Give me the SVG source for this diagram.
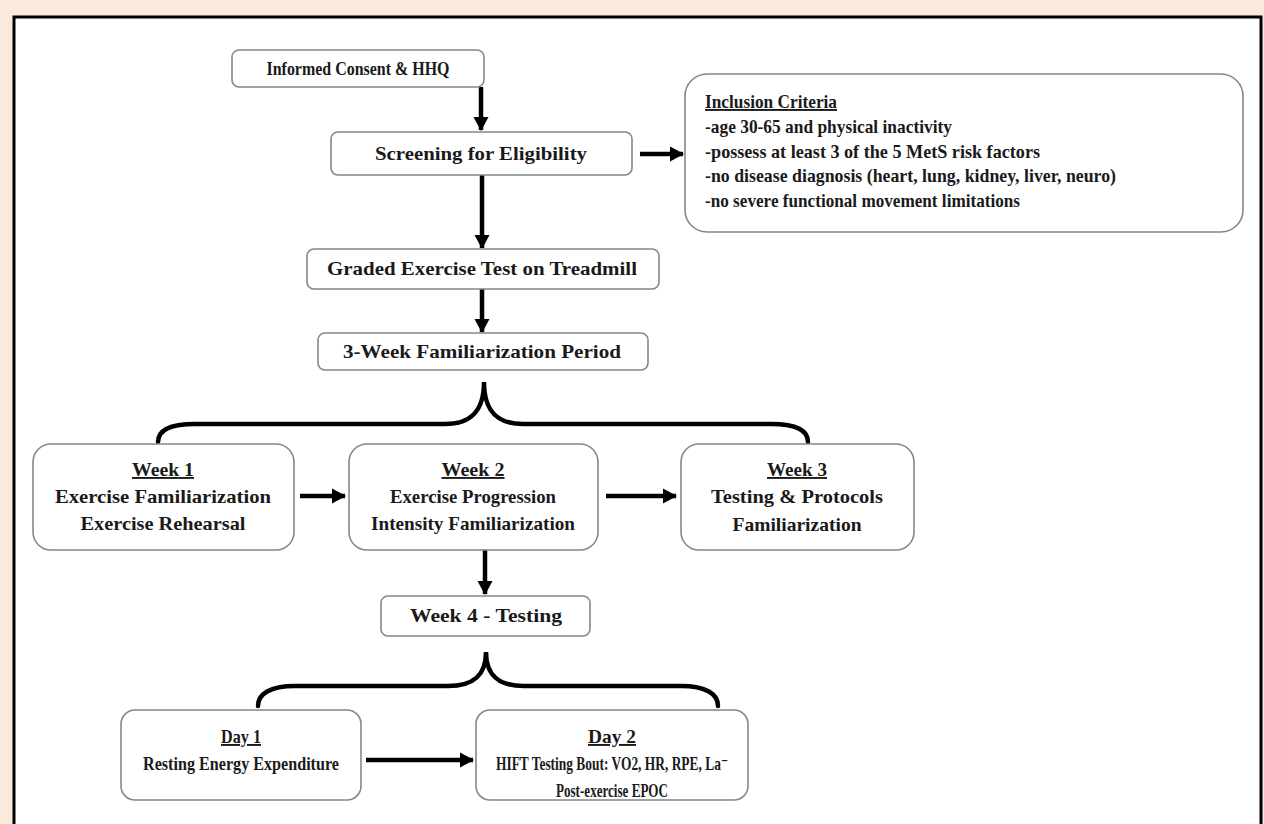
<svg xmlns="http://www.w3.org/2000/svg" width="1264" height="824" viewBox="0 0 1264 824">
<style>
.bx{fill:#fff;stroke:#7d8993;stroke-width:1.6}
.t{font-family:"Liberation Serif","Times New Roman","DejaVu Serif",serif;font-weight:bold;font-size:19px;fill:#1a1a1a;text-anchor:middle}
.l{text-anchor:start}
.u{text-decoration:underline}
.c{fill:none;stroke:#000;stroke-width:4.5}
.br{fill:none;stroke:#000;stroke-width:4.5;stroke-linecap:round}
</style>
<defs>
<marker id="ah" markerUnits="userSpaceOnUse" markerWidth="15" markerHeight="17" refX="13" refY="8.5" orient="auto">
<path d="M0,1 L14,8.5 L0,16 z" fill="#000"/>
</marker>
</defs>
<rect x="0" y="0" width="1264" height="824" fill="#fbe9dc"/>
<rect x="14" y="17" width="1247" height="830" fill="#fff" stroke="#000" stroke-width="3"/>

<g id="connectors">
<line class="c" x1="481" y1="87" x2="481" y2="130" marker-end="url(#ah)"/>
<line class="c" x1="640" y1="154" x2="683" y2="154" marker-end="url(#ah)"/>
<line class="c" x1="482" y1="175" x2="482" y2="248" marker-end="url(#ah)"/>
<line class="c" x1="482" y1="289" x2="482" y2="332" marker-end="url(#ah)"/>
<path class="br" d="M158,442 C158,430 170,424 195,424 L445,424 C470,424 484,412 484,382 C484,412 498,424 523,424 L771,424 C796,424 808,430 808,442"/>
<line class="c" x1="300" y1="496" x2="345" y2="496" marker-end="url(#ah)"/>
<line class="c" x1="606" y1="496" x2="676" y2="496" marker-end="url(#ah)"/>
<line class="c" x1="485" y1="550" x2="485" y2="594" marker-end="url(#ah)"/>
<path class="br" d="M258,706 C258,694 270,686 295,686 L448,686 C473,686 486,676 486,652 C486,676 499,686 524,686 L681,686 C706,686 718,694 718,706"/>
<line class="c" x1="366" y1="760" x2="473" y2="760" marker-end="url(#ah)"/>
</g>

<g id="n-consent">
<rect class="bx" x="232" y="50" width="252" height="37" rx="7"/>
<text class="t" x="358" y="75" textLength="183" lengthAdjust="spacingAndGlyphs">Informed  Consent &amp; HHQ</text>
</g>
<g id="n-screening">
<rect class="bx" x="331" y="132" width="301" height="43" rx="7"/>
<text class="t" x="481" y="160" textLength="212" lengthAdjust="spacingAndGlyphs">Screening for Eligibility</text>
</g>
<g id="n-inclusion">
<rect class="bx" x="685" y="74" width="558" height="158" rx="22"/>
<text class="t l u" x="705" y="108" textLength="132" lengthAdjust="spacingAndGlyphs">Inclusion  Criteria</text>
<text class="t l" x="705" y="133" textLength="247" lengthAdjust="spacingAndGlyphs">-age 30-65 and physical inactivity</text>
<text class="t l" x="705" y="158" textLength="335" lengthAdjust="spacingAndGlyphs">-possess at least 3 of the 5 MetS risk factors</text>
<text class="t l" x="705" y="182" textLength="411" lengthAdjust="spacingAndGlyphs">-no disease diagnosis (heart, lung, kidney, liver, neuro)</text>
<text class="t l" x="705" y="207" textLength="315" lengthAdjust="spacingAndGlyphs">-no severe functional  movement  limitations</text>
</g>
<g id="n-gxt">
<rect class="bx" x="307" y="249" width="352" height="40" rx="7"/>
<text class="t" x="482" y="275" textLength="310" lengthAdjust="spacingAndGlyphs">Graded Exercise Test on Treadmill</text>
</g>
<g id="n-familiarization">
<rect class="bx" x="318" y="333" width="330" height="37" rx="7"/>
<text class="t" x="482" y="358" textLength="278" lengthAdjust="spacingAndGlyphs">3-Week Familiarization  Period</text>
</g>
<g id="n-week1">
<rect class="bx" x="33" y="444" width="261" height="106" rx="18"/>
<text class="t u" x="163" y="476" textLength="62" lengthAdjust="spacingAndGlyphs">Week 1</text>
<text class="t" x="163" y="503" textLength="216" lengthAdjust="spacingAndGlyphs">Exercise Familiarization</text>
<text class="t" x="163" y="530" textLength="165" lengthAdjust="spacingAndGlyphs">Exercise Rehearsal</text>
</g>
<g id="n-week2">
<rect class="bx" x="349" y="444" width="249" height="106" rx="18"/>
<text class="t u" x="473" y="476" textLength="63" lengthAdjust="spacingAndGlyphs">Week 2</text>
<text class="t" x="473" y="503" textLength="166" lengthAdjust="spacingAndGlyphs">Exercise Progression</text>
<text class="t" x="473" y="530" textLength="204" lengthAdjust="spacingAndGlyphs">Intensity Familiarization</text>
</g>
<g id="n-week3">
<rect class="bx" x="681" y="444" width="233" height="106" rx="18"/>
<text class="t u" x="797" y="476" textLength="60" lengthAdjust="spacingAndGlyphs">Week 3</text>
<text class="t" x="797" y="503" textLength="172" lengthAdjust="spacingAndGlyphs">Testing &amp; Protocols</text>
<text class="t" x="797" y="531" textLength="129" lengthAdjust="spacingAndGlyphs">Familiarization</text>
</g>
<g id="n-week4">
<rect class="bx" x="381" y="596" width="209" height="40" rx="7"/>
<text class="t" x="486" y="622" textLength="152" lengthAdjust="spacingAndGlyphs">Week 4 - Testing</text>
</g>
<g id="n-day1">
<rect class="bx" x="121" y="710" width="240" height="90" rx="14"/>
<text class="t u" x="241" y="743" textLength="40" lengthAdjust="spacingAndGlyphs">Day 1</text>
<text class="t" x="241" y="770" textLength="196" lengthAdjust="spacingAndGlyphs">Resting Energy  Expenditure</text>
</g>
<g id="n-day2">
<rect class="bx" x="476" y="710" width="272" height="90" rx="14"/>
<text class="t u" x="612" y="743" textLength="48" lengthAdjust="spacingAndGlyphs">Day 2</text>
<text class="t" x="612" y="770" textLength="232" lengthAdjust="spacingAndGlyphs">HIFT Testing Bout: VO2, HR, RPE, La⁻</text>
<text class="t" x="612" y="797" textLength="112" lengthAdjust="spacingAndGlyphs">Post-exercise EPOC</text>
</g>
</svg>
